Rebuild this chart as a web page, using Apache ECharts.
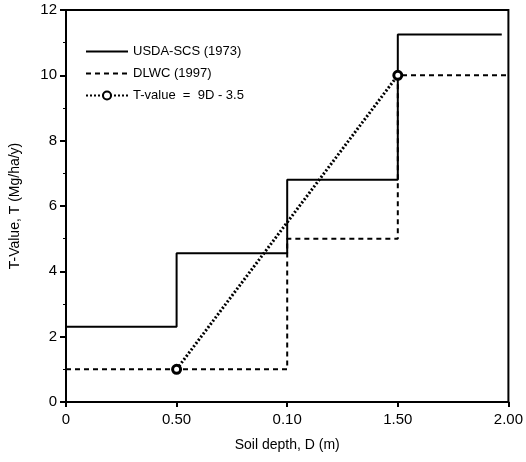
<!DOCTYPE html>
<html>
<head>
<meta charset="utf-8">
<script src="https://cdn.jsdelivr.net/npm/echarts@6/dist/echarts.min.js"></script>
<style>
  html, body { margin: 0; padding: 0; background: #fff; }
  #chart { width: 526px; height: 462px; }
</style>
</head>
<body>
<div id="chart"></div>
<script>
// soil depth (m) vs tolerable soil loss T
const xTickLabels = ['0', '0.50', '0.10', '1.50', '2.00'];
const usdaDepth = [0, 0.5, 1.0, 1.5, 1.97];
const usdaT = [2.3, 4.55, 6.8, 11.25, 11.25];
const dlwcDepth = [0, 1.0, 1.5, 2.0];
const dlwcT = [1.0, 5.0, 10.0, 10.0];
const fitDepth = [0.5, 1.5];
const fitT = [1.0, 10.0];

const pairs = (xs, ys) => xs.map((x, i) => [x, ys[i]]);

const font = 'Liberation Sans, Arial, sans-serif';

const option = {
  animation: false,
  grid: {
    left: 66,
    right: 14,
    top: 10,
    bottom: 60,
    show: true,
    borderColor: '#000',
    borderWidth: 2,
  },
  legend: {
    orient: 'vertical',
    left: 80,
    top: 40,
    itemWidth: 42,
    itemHeight: 10,
    itemGap: 9,
    textStyle: { fontFamily: font, fontSize: 13, color: '#000' },
    data: [
      { name: 'USDA-SCS (1973)', itemStyle: { opacity: 0 } },
      { name: 'DLWC (1997)', itemStyle: { opacity: 0 } },
      { name: 'T-value  =  9D - 3.5' },
    ],
  },
  xAxis: {
    type: 'value',
    min: 0,
    max: 2,
    interval: 0.5,
    name: 'Soil depth, D (m)',
    nameLocation: 'middle',
    nameGap: 36,
    nameTextStyle: { fontFamily: font, fontSize: 14, color: '#000' },
    axisLine: { lineStyle: { color: '#000', width: 2 } },
    axisTick: { inside: false, length: 5, lineStyle: { color: '#000', width: 2 } },
    axisLabel: {
      margin: 10,
      fontFamily: font,
      fontSize: 15,
      color: '#000',
      formatter: (v) => xTickLabels[Math.round(v / 0.5)],
    },
    splitLine: { show: false },
  },
  yAxis: {
    type: 'value',
    min: 0,
    max: 12,
    interval: 2,
    name: 'T-Value, T (Mg/ha/y)',
    nameLocation: 'middle',
    nameGap: 44,
    nameTextStyle: { fontFamily: font, fontSize: 14, color: '#000' },
    axisLine: { lineStyle: { color: '#000', width: 2 } },
    axisTick: { length: 6, lineStyle: { color: '#000', width: 2 } },
    minorTick: { show: true, splitNumber: 2, length: 3, lineStyle: { color: '#000', width: 1 } },
    axisLabel: { margin: 9, fontFamily: font, fontSize: 15, color: '#000' },
    splitLine: { show: false },
  },
  series: [
    {
      name: 'USDA-SCS (1973)',
      type: 'line',
      step: 'end',
      symbol: 'none',
      lineStyle: { color: '#000', width: 2 },
      itemStyle: { color: '#000' },
      data: pairs(usdaDepth, usdaT),
    },
    {
      name: 'DLWC (1997)',
      type: 'line',
      step: 'end',
      symbol: 'none',
      lineStyle: { color: '#000', width: 2, type: [5, 4] },
      itemStyle: { color: '#000' },
      data: pairs(dlwcDepth, dlwcT),
    },
    {
      name: 'T-value  =  9D - 3.5',
      type: 'line',
      symbol: 'circle',
      symbolSize: 8,
      lineStyle: { color: '#000', width: 3, type: [2, 2] },
      itemStyle: { color: '#fff', borderColor: '#000', borderWidth: 3 },
      z: 5,
      data: pairs(fitDepth, fitT),
    },
  ],
};

const chart = echarts.init(document.getElementById('chart'));
chart.setOption(option);
</script>
</body>
</html>
